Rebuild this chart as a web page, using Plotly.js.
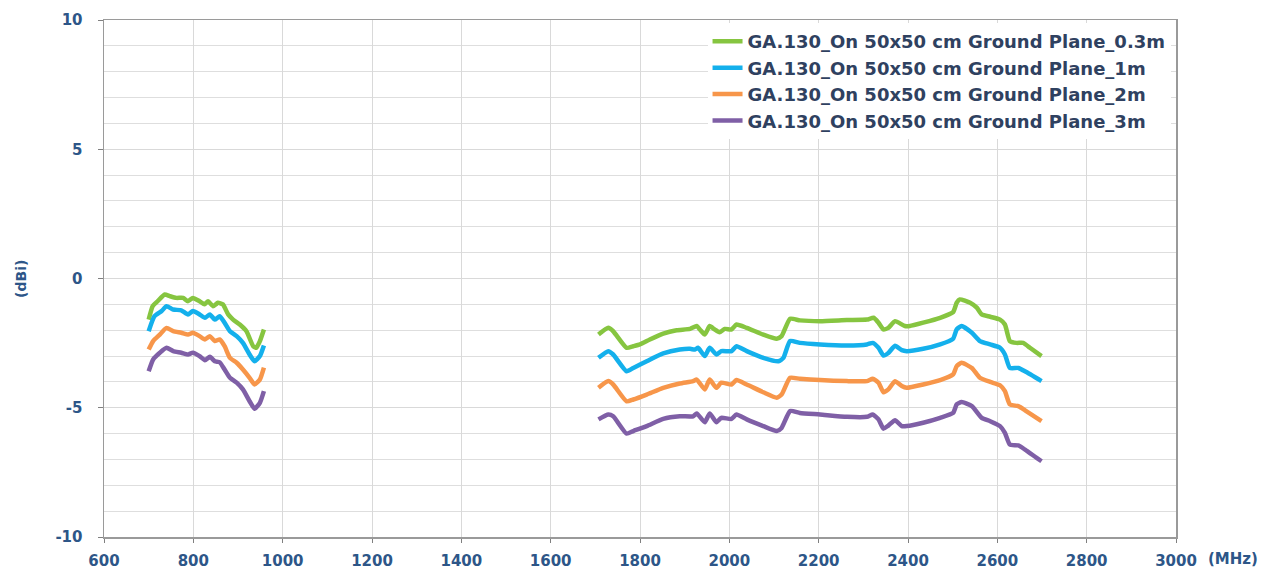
<!DOCTYPE html>
<html>
<head>
<meta charset="utf-8">
<script src="https://cdn.plot.ly/plotly-3.0.1.min.js"></script>
<style>html,body{margin:0;padding:0;background:#fff;}#chart{width:1269px;height:572px;}</style>
</head>
<body>
<div id="chart"></div>
<script>
// Series names
const seriesNames = [
  "GA.130_On 50x50 cm Ground Plane_0.3m",
  "GA.130_On 50x50 cm Ground Plane_1m",
  "GA.130_On 50x50 cm Ground Plane_2m",
  "GA.130_On 50x50 cm Ground Plane_3m"
];

// 0.3 m (green)
const freqGreenLow = [700,709,720,736,747,762,777,788,799,814,825,833,844,855,866,878,889,904,919,934,941,949,958];
const gainGreenLow = [-1.59,-1.07,-0.88,-0.62,-0.68,-0.75,-0.75,-0.88,-0.75,-0.88,-1.0,-0.88,-1.07,-0.94,-1.0,-1.39,-1.59,-1.78,-2.04,-2.62,-2.68,-2.42,-1.97];
const freqGreenHigh = [1707,1729,1740,1770,1785,1800,1822,1852,1882,1912,1927,1934,1945,1956,1967,1978,1990,2005,2016,2039,2076,2106,2117,2136,2158,2203,2263,2308,2323,2334,2345,2356,2371,2393,2404,2434,2472,2501,2509,2516,2539,2554,2565,2584,2606,2617,2628,2643,2658,2673,2699];
const gainGreenHigh = [-2.17,-1.91,-2.04,-2.68,-2.62,-2.55,-2.36,-2.13,-2.0,-1.95,-1.84,-1.97,-2.17,-1.84,-1.97,-2.08,-1.95,-1.97,-1.78,-1.91,-2.17,-2.33,-2.23,-1.56,-1.62,-1.65,-1.61,-1.59,-1.52,-1.71,-1.97,-1.91,-1.65,-1.84,-1.84,-1.71,-1.52,-1.30,-0.94,-0.81,-0.94,-1.13,-1.39,-1.48,-1.59,-1.78,-2.42,-2.49,-2.49,-2.68,-3.0];

// 1 m (blue)
const freqBlueLow = [700,713,729,740,755,773,788,799,814,826,837,848,859,870,882,897,911,926,937,949,958];
const gainBlueLow = [-2.04,-1.46,-1.26,-1.07,-1.2,-1.23,-1.39,-1.26,-1.39,-1.52,-1.39,-1.59,-1.46,-1.71,-2.04,-2.23,-2.49,-2.94,-3.2,-3.0,-2.59];
const freqBlueHigh = [1707,1729,1740,1770,1785,1815,1852,1889,1912,1923,1930,1945,1956,1971,1982,2005,2016,2039,2076,2110,2121,2136,2158,2203,2263,2308,2321,2334,2345,2356,2371,2386,2397,2434,2472,2501,2509,2520,2543,2561,2584,2606,2617,2628,2647,2662,2699];
const gainBlueHigh = [-3.07,-2.81,-2.94,-3.59,-3.46,-3.2,-2.9,-2.75,-2.72,-2.75,-2.68,-3.0,-2.68,-2.94,-2.81,-2.81,-2.62,-2.81,-3.07,-3.2,-3.07,-2.42,-2.49,-2.55,-2.59,-2.55,-2.49,-2.68,-2.98,-2.88,-2.6,-2.77,-2.81,-2.72,-2.55,-2.33,-1.97,-1.84,-2.1,-2.42,-2.55,-2.68,-2.94,-3.46,-3.46,-3.59,-3.97];

// 2 m (orange)
const freqOrangeLow = [700,710,725,740,755,773,788,799,814,826,837,848,859,870,882,897,911,926,937,949,958];
const gainOrangeLow = [-2.75,-2.42,-2.17,-1.91,-2.04,-2.1,-2.17,-2.1,-2.23,-2.36,-2.23,-2.42,-2.36,-2.62,-3.07,-3.26,-3.52,-3.84,-4.1,-3.91,-3.45];
const freqOrangeHigh = [1707,1729,1740,1770,1785,1815,1852,1889,1919,1927,1945,1956,1971,1982,2005,2016,2039,2076,2106,2117,2136,2158,2203,2263,2308,2321,2334,2345,2356,2371,2386,2397,2434,2472,2501,2509,2520,2543,2561,2584,2606,2617,2628,2647,2662,2699];
const gainOrangeHigh = [-4.23,-3.97,-4.1,-4.75,-4.68,-4.49,-4.23,-4.06,-3.97,-3.91,-4.29,-3.91,-4.23,-4.03,-4.1,-3.93,-4.1,-4.4,-4.61,-4.49,-3.84,-3.88,-3.93,-3.97,-3.97,-3.88,-4.03,-4.4,-4.29,-3.97,-4.16,-4.23,-4.1,-3.93,-3.71,-3.39,-3.26,-3.46,-3.84,-4.0,-4.13,-4.36,-4.87,-4.94,-5.1,-5.52];

// 3 m (purple)
const freqPurpleLow = [700,710,725,740,755,773,788,799,814,826,837,848,859,870,882,897,911,926,937,949,958];
const gainPurpleLow = [-3.59,-3.13,-2.87,-2.68,-2.81,-2.87,-2.94,-2.87,-3.0,-3.16,-3.03,-3.2,-3.24,-3.52,-3.84,-4.03,-4.29,-4.75,-5.04,-4.81,-4.36];
const freqPurpleHigh = [1707,1729,1740,1770,1785,1815,1852,1889,1919,1927,1945,1956,1971,1982,2005,2016,2039,2076,2106,2117,2136,2158,2203,2263,2308,2321,2334,2345,2356,2371,2386,2397,2434,2472,2501,2509,2520,2543,2565,2584,2606,2617,2628,2647,2662,2688,2699];
const gainPurpleHigh = [-5.45,-5.26,-5.33,-6.0,-5.9,-5.71,-5.43,-5.33,-5.33,-5.22,-5.56,-5.22,-5.56,-5.39,-5.43,-5.26,-5.45,-5.71,-5.9,-5.78,-5.13,-5.2,-5.26,-5.35,-5.35,-5.26,-5.45,-5.81,-5.69,-5.48,-5.71,-5.71,-5.58,-5.39,-5.2,-4.87,-4.78,-4.94,-5.39,-5.52,-5.71,-5.97,-6.42,-6.46,-6.62,-6.94,-7.07];

const xTickVals = [600,800,1000,1200,1400,1600,1800,2000,2200,2400,2600,2800,3000];
const yTickVals = [-10,-5,0,5,10];

const colors = ["#86c540", "#14b0ec", "#f7964a", "#7f5fa6"];
const lowF = [freqGreenLow, freqBlueLow, freqOrangeLow, freqPurpleLow];
const lowG = [gainGreenLow, gainBlueLow, gainOrangeLow, gainPurpleLow];
const highF = [freqGreenHigh, freqBlueHigh, freqOrangeHigh, freqPurpleHigh];
const highG = [gainGreenHigh, gainBlueHigh, gainOrangeHigh, gainPurpleHigh];

const traces = seriesNames.map((name, i) => ({
  type: "scatter",
  mode: "lines",
  name: name,
  x: lowF[i].concat([1300], highF[i]),
  y: lowG[i].concat([null], highG[i]),
  connectgaps: false,
  line: {color: colors[i], width: 4.5, shape: "spline", smoothing: 0.5},
  hoverinfo: "x+y"
}));

const FAM = "DejaVu Sans, Verdana, sans-serif";
const tickFont = {family: FAM, size: 15, color: "#2d5688", weight: "bold"};

const layout = {
  width: 1269, height: 572,
  margin: {l: 104, r: 93, t: 20, b: 35},
  paper_bgcolor: "#ffffff",
  plot_bgcolor: "#ffffff",
  showlegend: true,
  font: {family: FAM},
  xaxis: {
    range: [600, 3000],
    tickvals: xTickVals,
    ticktext: xTickVals.map(String),
    showgrid: true, gridcolor: "#d9d9d9", gridwidth: 1,
    zeroline: false,
    showline: true, linecolor: "#9a9a9a", linewidth: 1.5, mirror: true,
    ticks: "outside", ticklen: 4, tickcolor: "#808080",
    tickfont: tickFont,
    ticklabelstandoff: 5
  },
  yaxis: {
    range: [-10, 10],
    tickvals: yTickVals,
    ticktext: yTickVals.map(String),
    showgrid: true, gridcolor: "#d9d9d9", gridwidth: 1,
    minor: {dtick: 1, showgrid: true, gridcolor: "#dedede", gridwidth: 1, ticks: ""},
    zeroline: false,
    showline: true, linecolor: "#9a9a9a", linewidth: 1.5, mirror: true,
    ticks: "outside", ticklen: 5, tickcolor: "#808080",
    tickfont: tickFont,
    ticklabelstandoff: 12
  },
  legend: {
    x: 0.563, y: 0.994, xanchor: "left", yanchor: "top",
    bgcolor: "#ffffff",
    borderwidth: 0,
    font: {family: FAM, size: 18, color: "#2f4160", weight: "bold"},
    itemwidth: 30,
    tracegroupgap: 0
  },
  annotations: [
    {text: "(dBi)", xref: "paper", yref: "paper", x: -0.078, y: 0.5, xanchor: "center", yanchor: "middle",
     textangle: -90, showarrow: false, font: {family: FAM, size: 14, color: "#2d5688", weight: "bold"}},
    {text: "(MHz)", xref: "paper", yref: "paper", x: 1.053, y: 0, yshift: -22, xanchor: "center", yanchor: "middle",
     showarrow: false, font: {family: FAM, size: 15, color: "#2d5688", weight: "bold"}}
  ]
};

Plotly.newPlot("chart", traces, layout, {displayModeBar: false, staticPlot: true});
</script>
</body>
</html>
